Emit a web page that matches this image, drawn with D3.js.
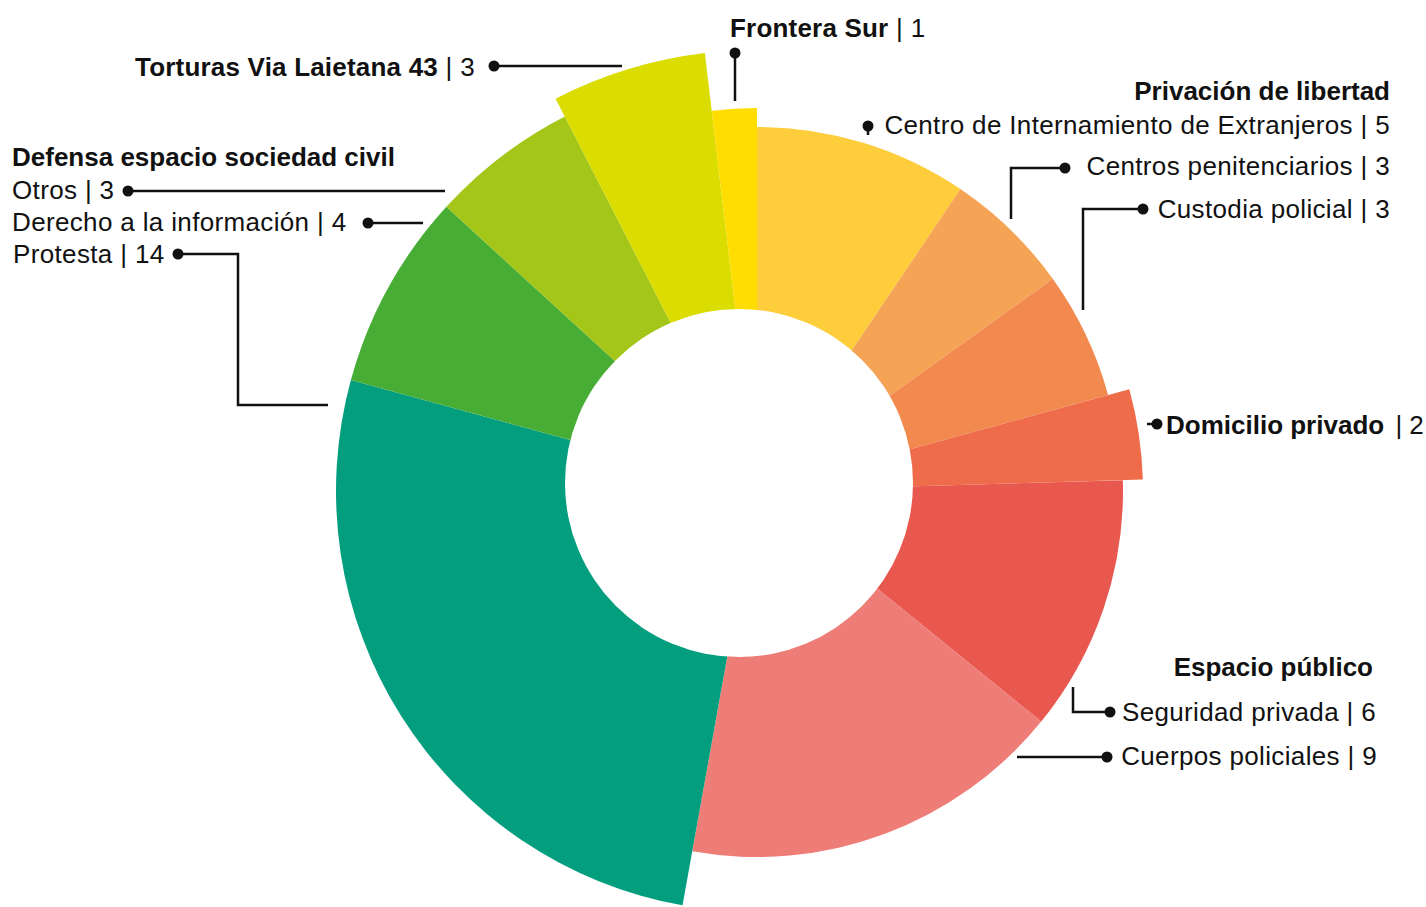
<!DOCTYPE html>
<html>
<head>
<meta charset="utf-8">
<script src="https://cdn.jsdelivr.net/npm/d3@7"></script>
<style>
  html, body { margin: 0; padding: 0; background: #fff; }
  text { font-family: "Liberation Sans", Arial, sans-serif; fill: #111; }
</style>
</head>
<body>
<div id="chart"></div>
<script>
// data, clockwise from 12 o'clock
const categories = ['Centro de Internamiento de Extranjeros', 'Centros penitenciarios', 'Custodia policial',
  'Domicilio privado', 'Seguridad privada', 'Cuerpos policiales', 'Protesta',
  'Derecho a la información', 'Otros', 'Torturas Via Laietana 43', 'Frontera Sur']
const values = [5, 3, 3, 2, 6, 9, 14, 4, 3, 3, 1]
const groups = ['Privación de libertad', 'Privación de libertad', 'Privación de libertad',
  'Domicilio privado', 'Espacio público', 'Espacio público', 'Defensa espacio sociedad civil',
  'Defensa espacio sociedad civil', 'Defensa espacio sociedad civil', 'Torturas Via Laietana 43', 'Frontera Sur']
const groupTitles = ['Privación de libertad', 'Defensa espacio sociedad civil', 'Espacio público']

const width = 1426
const height = 907

const colors = ['#fecd3c', '#f5a455', '#f2894f', '#ee6c4a', '#e9584f', '#ee7c77',
  '#029e7e', '#47ad35', '#a3c618', '#dbdc00', '#ffdd00']

// each group sticks out a different amount
const groupRadius = {
  'Privación de libertad': 364,
  'Domicilio privado': 386,
  'Espacio público': 366,
  'Defensa espacio sociedad civil': 421,
  'Torturas Via Laietana 43': 441,
  'Frontera Sur': 383
}

const svg = d3.select('#chart')
  .append('svg')
  .attr('width', width)
  .attr('height', height)

const pie = d3.pie().sort(null).value(d => d)
const arcs = pie(values)

const arc = d3.arc()
  .innerRadius(0)
  .outerRadius(d => groupRadius[groups[d.index]])

const g = svg.append('g')
  .attr('transform', 'translate(757,491)')

g.selectAll('path')
  .data(arcs)
  .enter()
  .append('path')
  .attr('d', arc)
  .attr('fill', (d, i) => colors[i])

// hole is a bit off-centre
svg.append('circle')
  .attr('cx', 739)
  .attr('cy', 483)
  .attr('r', 174)
  .attr('fill', '#fff')

// label layout (index into categories)
const labelLayout = [
  { i: 0, x: 1390, y: 134, anchor: 'end', line: [[868, 126], [868, 135]] },
  { i: 1, x: 1390, y: 175, anchor: 'end', line: [[1065, 168], [1011, 168], [1011, 219]] },
  { i: 2, x: 1390, y: 218, anchor: 'end', line: [[1143, 209], [1083, 209], [1083, 310]] },
  { i: 3, x: 1166, y: 434, anchor: 'start', bold: true, tight: true, gap: 4, line: [[1157, 424], [1147, 424]] },
  { i: 4, x: 1376, y: 721, anchor: 'end', line: [[1110, 712], [1073, 712], [1073, 687]] },
  { i: 5, x: 1377, y: 765, anchor: 'end', line: [[1107, 757], [1017, 757]] },
  { i: 6, x: 13, y: 263, anchor: 'start', line: [[178, 254], [238, 254], [238, 405], [328, 405]] },
  { i: 7, x: 12, y: 231, anchor: 'start', line: [[368, 223], [423, 223]] },
  { i: 8, x: 12, y: 199, anchor: 'start', line: [[128, 191], [445, 191]] },
  { i: 9, x: 135, y: 76, anchor: 'start', bold: true, line: [[494, 66], [622, 66]] },
  { i: 10, x: 730, y: 37, anchor: 'start', bold: true, line: [[735, 53], [735, 101]] }
]

const titleLayout = [
  { x: 1390, y: 100, anchor: 'end' },
  { x: 12, y: 166, anchor: 'start' },
  { x: 1373, y: 676, anchor: 'end' }
]

svg.selectAll('.leader')
  .data(labelLayout)
  .enter()
  .append('path')
  .attr('class', 'leader')
  .attr('d', d => d3.line()(d.line))
  .attr('fill', 'none')
  .attr('stroke', '#111')
  .attr('stroke-width', 2.5)

svg.selectAll('.dot')
  .data(labelLayout)
  .enter()
  .append('circle')
  .attr('class', 'dot')
  .attr('cx', d => d.line[0][0])
  .attr('cy', d => d.line[0][1])
  .attr('r', 5.5)
  .attr('fill', '#111')

const labels = svg.selectAll('.label')
  .data(labelLayout)
  .enter()
  .append('text')
  .attr('class', 'label')
  .attr('x', d => d.x)
  .attr('y', d => d.y)
  .attr('text-anchor', d => d.anchor)
  .style('font-size', '26px')

labels.append('tspan')
  .style('font-weight', d => d.bold ? 'bold' : 'normal')
  .style('letter-spacing', d => d.tight ? '0px' : d.bold ? '0.2px' : '0.35px')
  .text(d => categories[d.i])

labels.append('tspan')
  .attr('dx', d => d.gap || 0)
  .style('letter-spacing', d => d.tight ? '0px' : '0.35px')
  .text(d => ' | ' + values[d.i])

svg.selectAll('.title')
  .data(titleLayout)
  .enter()
  .append('text')
  .attr('class', 'title')
  .attr('x', d => d.x)
  .attr('y', d => d.y)
  .attr('text-anchor', d => d.anchor)
  .style('font-size', '26px')
  .style('font-weight', 'bold')
  .text((d, i) => groupTitles[i])
</script>
</body>
</html>
